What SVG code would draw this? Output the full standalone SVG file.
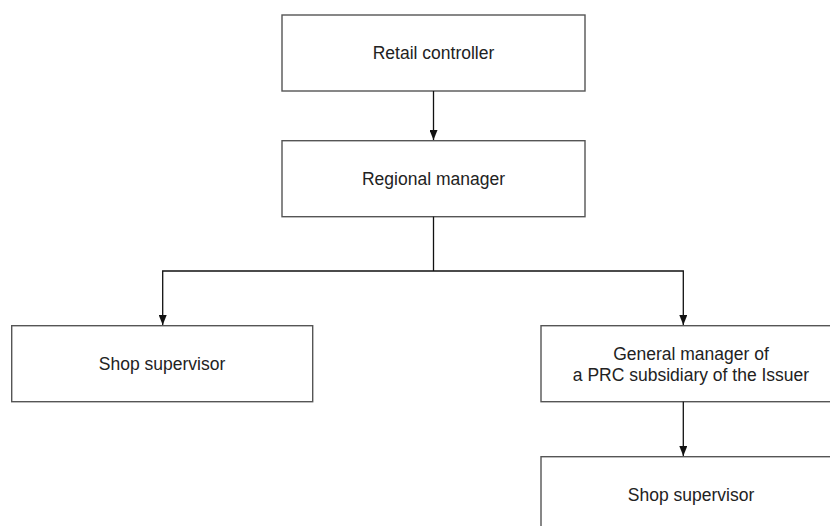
<svg xmlns="http://www.w3.org/2000/svg" width="830" height="526" viewBox="0 0 830 526">
<style>
.box{fill:#fff;stroke:#555;stroke-width:1.4}
.lbl{font-family:"Liberation Sans",Arial,sans-serif;font-size:17.5px;fill:#222;text-anchor:middle}
.con{fill:none;stroke:#111;stroke-width:1.3}
</style>
<defs>
<marker id="ah" markerUnits="userSpaceOnUse" markerWidth="10" markerHeight="8" refX="10" refY="4" orient="auto-start-reverse" viewBox="0 0 10 8">
<path d="M0,0 L10,4 L0,8 Z" fill="#111"/>
</marker>
</defs>
<rect width="830" height="526" fill="#fff"/>
<g id="retail-controller">
<rect class="box" x="282" y="15" width="303" height="76"/>
<text class="lbl" x="433.5" y="59">Retail controller</text>
</g>
<g id="regional-manager">
<rect class="box" x="282" y="140.7" width="303" height="76"/>
<text class="lbl" x="433.5" y="185">Regional manager</text>
</g>
<g id="shop-supervisor-left">
<rect class="box" x="11.7" y="325.7" width="301" height="76"/>
<text class="lbl" x="162" y="370">Shop supervisor</text>
</g>
<g id="general-manager">
<rect class="box" x="541" y="325.7" width="301" height="76"/>
<text class="lbl" x="691" y="360">General manager of</text>
<text class="lbl" x="691" y="381">a PRC subsidiary of the Issuer</text>
</g>
<g id="shop-supervisor-right">
<rect class="box" x="541" y="456.7" width="301" height="90"/>
<text class="lbl" x="691" y="500.5">Shop supervisor</text>
</g>
<g id="connectors">
<path class="con" d="M433.5,91 V140" marker-end="url(#ah)"/>
<path class="con" d="M433.5,216.7 V271"/>
<path class="con" d="M162.7,325 V271 H683.3 V325" marker-start="url(#ah)" marker-end="url(#ah)"/>
<path class="con" d="M683.3,401.7 V456" marker-end="url(#ah)"/>
</g>
</svg>
